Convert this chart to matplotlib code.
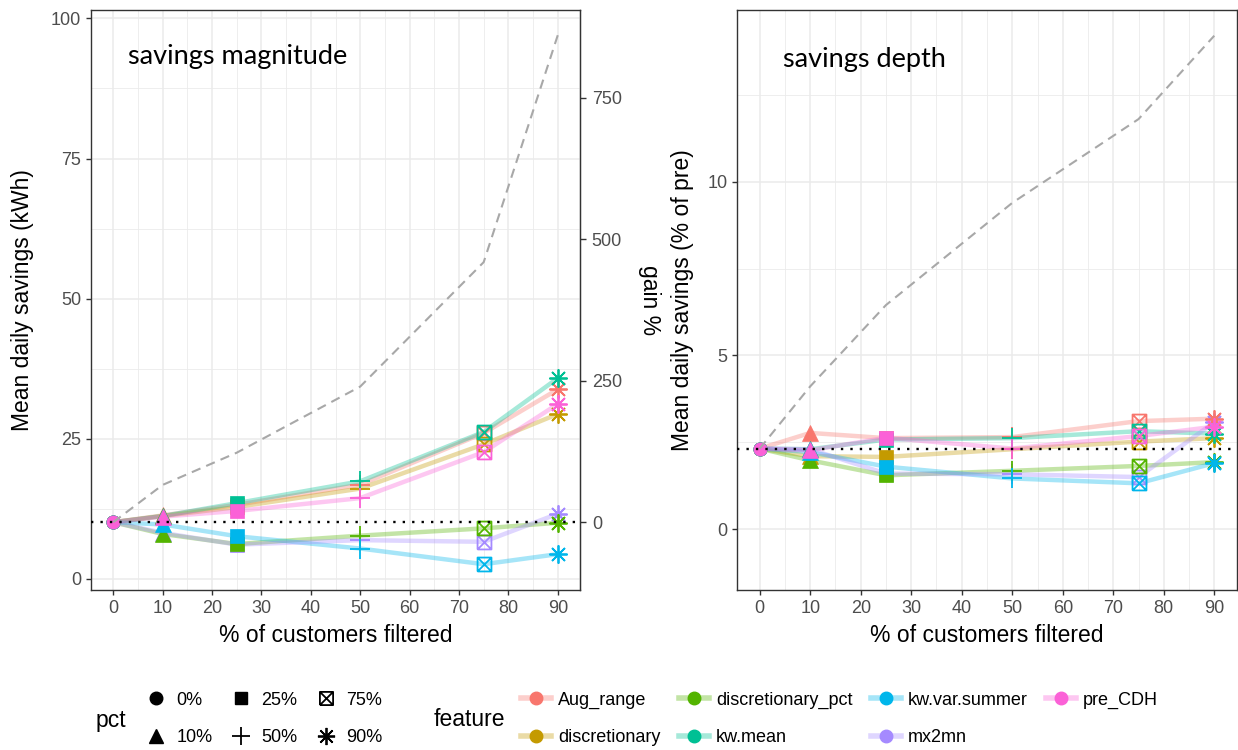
import numpy as np
import matplotlib
matplotlib.use('Agg')
import matplotlib.pyplot as plt
from matplotlib.lines import Line2D
from matplotlib.path import Path
from matplotlib.ticker import MultipleLocator

plt.rcParams['font.family'] = ['Liberation Sans', 'DejaVu Sans']

# % of customers filtered
pct_x = [0, 10, 25, 50, 75, 90]
pct_labels = ['0%', '10%', '25%', '50%', '75%', '90%']

features = ['Aug_range', 'discretionary', 'discretionary_pct', 'kw.mean',
            'kw.var.summer', 'mx2mn', 'pre_CDH']
feature_colors = ['#F8766D', '#C49A00', '#53B400', '#00C094',
                  '#00B6EB', '#A58AFF', '#FB61D7']

# savings magnitude (kWh), one row per feature
magnitude = [
    [10.1, 11.3, 13.2, 16.8, 26.0, 33.8],   # Aug_range
    [10.1, 11.2, 12.8, 16.1, 24.0, 29.4],   # discretionary
    [10.1, 8.0, 6.2, 7.7, 9.0, 10.0],       # discretionary_pct
    [10.1, 11.2, 13.5, 17.4, 26.2, 35.8],   # kw.mean
    [10.1, 9.7, 7.6, 5.4, 2.6, 4.4],        # kw.var.summer
    [10.1, 8.2, 6.1, 6.9, 6.6, 11.6],       # mx2mn
    [10.1, 11.1, 12.1, 14.4, 22.6, 31.2],   # pre_CDH
]
magnitude_upper = [10.1, 16.75, 22.5, 34.3, 56.5, 97.0]
magnitude_base = 10.1

# savings depth (% of pre)
depth = [
    [2.32, 2.77, 2.62, 2.65, 3.11, 3.18],   # Aug_range
    [2.32, 2.10, 2.08, 2.30, 2.52, 2.62],   # discretionary
    [2.32, 1.98, 1.55, 1.68, 1.82, 1.93],   # discretionary_pct
    [2.32, 2.30, 2.58, 2.62, 2.82, 2.75],   # kw.mean
    [2.32, 2.22, 1.80, 1.46, 1.32, 1.90],   # kw.var.summer
    [2.32, 2.30, 1.60, 1.58, 1.50, 3.08],   # mx2mn
    [2.32, 2.27, 2.63, 2.32, 2.68, 2.95],   # pre_CDH
]
depth_upper = [2.32, 4.11, 6.45, 9.39, 11.8, 14.2]
depth_base = 2.32

# order the points are stacked in (last on top)
point_order = [5, 0, 1, 2, 3, 4, 6]

# marker shapes for pct (ggplot shapes 16, 17, 15, 3, 7, 8)
boxx = Path([(-1, -1), (1, -1), (1, 1), (-1, 1), (-1, -1),
             (-1, -1), (1, 1), (-1, 1), (1, -1)],
            [Path.MOVETO, Path.LINETO, Path.LINETO, Path.LINETO, Path.LINETO,
             Path.MOVETO, Path.LINETO, Path.MOVETO, Path.LINETO])
shapes = ['o', '^', 's', '+', boxx, (8, 2, 0)]
shape_size = [9.5, 11, 9.5, 14, 10, 13]
shape_filled = [True, True, True, False, False, False]

grid_col = '#EBEBEB'
dark = '#333333'
tick_col = '#4D4D4D'


def style_axes(ax):
    ax.set_facecolor('white')
    ax.grid(which='major', color=grid_col, lw=1.1, zorder=0)
    ax.grid(which='minor', color=grid_col, lw=0.6, zorder=0)
    ax.set_axisbelow(True)
    for s in ax.spines.values():
        s.set_color(dark)
        s.set_linewidth(1.0)
    ax.tick_params(which='major', length=3.5, width=1.0, color=dark,
                   labelcolor=tick_col, labelsize=13)
    ax.tick_params(which='minor', length=0)
    ax.xaxis.set_major_locator(MultipleLocator(10))
    ax.xaxis.set_minor_locator(MultipleLocator(5))
    ax.set_xlim(-4.5, 94.5)


def draw_panel(ax, data, upper, base):
    for vals, c in zip(data, feature_colors):
        ax.plot(pct_x, vals, color=c, alpha=0.35, lw=3.2, zorder=2)
    for k in point_order:
        vals, c = data[k], feature_colors[k]
        for i in range(len(pct_x)):
            if shape_filled[i]:
                ax.plot(pct_x[i], vals[i], marker=shapes[i], ms=shape_size[i],
                        color=c, mec=c, mew=0.5, ls='none', zorder=3)
            else:
                ax.plot(pct_x[i], vals[i], marker=shapes[i], ms=shape_size[i],
                        color=c, mfc='none', mec=c, mew=1.3, ls='none', zorder=3)
    ax.plot(pct_x, upper, color='#A8A8A8', ls=(0, (4.5, 3)), lw=1.5, zorder=4)
    ax.axhline(base, color='black', ls=(0, (1, 3)), lw=1.7, zorder=5)


fig = plt.figure(figsize=(12.38, 7.5), dpi=100)
ax1 = fig.add_axes([91 / 1238, 1 - 590 / 750, 489 / 1238, 580 / 750])
ax2 = fig.add_axes([737 / 1238, 1 - 590 / 750, 500 / 1238, 580 / 750])

# left panel: savings magnitude
style_axes(ax1)
draw_panel(ax1, magnitude, magnitude_upper, magnitude_base)
ax1.set_ylim(-2.0, 101.5)
ax1.yaxis.set_major_locator(MultipleLocator(25))
ax1.yaxis.set_minor_locator(MultipleLocator(12.5))
ax1.set_ylabel('Mean daily savings (kWh)', fontsize=16.5, va='center')
ax1.yaxis.set_label_coords(-0.141, 0.5)
ax1.set_xlabel('% of customers filtered', fontsize=16.5, va='center')
ax1.xaxis.set_label_coords(0.5, -0.079)
ax1.text(0.0757, 0.919, 'savings magnitude', transform=ax1.transAxes,
         fontsize=19.5, family='Lato', va='center', ha='left')

sec = ax1.secondary_yaxis('right',
                          functions=(lambda y: (y / magnitude_base - 1) * 100,
                                     lambda g: magnitude_base * (1 + g / 100)))
sec.set_yticks([0, 250, 500, 750])
sec.tick_params(length=4.5, width=1.0, color=dark, labelcolor=tick_col,
                labelsize=13, pad=4)
sec.spines['right'].set_color(dark)
fig.text(650 / 1238, 1 - 300 / 750, 'gain %', fontsize=16.5, rotation=270,
         ha='center', va='center')

# right panel: savings depth
style_axes(ax2)
draw_panel(ax2, depth, depth_upper, depth_base)
ax2.set_ylim(-1.75, 14.94)
ax2.yaxis.set_major_locator(MultipleLocator(5))
ax2.yaxis.set_minor_locator(MultipleLocator(2.5))
ax2.set_ylabel('Mean daily savings (% of pre)', fontsize=16.5, va='center')
ax2.yaxis.set_label_coords(-0.108, 0.5)
ax2.set_xlabel('% of customers filtered', fontsize=16.5, va='center')
ax2.xaxis.set_label_coords(0.5, -0.079)
ax2.text(0.092, 0.914, 'savings depth', transform=ax2.transAxes,
         fontsize=19.5, family='Lato', va='center', ha='left')

# legends
pct_handles = []
for i, lab in enumerate(pct_labels):
    if shape_filled[i]:
        h = Line2D([], [], ls='none', marker=shapes[i], ms=shape_size[i] * 0.95,
                   color='black', label=lab)
    else:
        h = Line2D([], [], ls='none', marker=shapes[i], ms=shape_size[i] * 0.95,
                   mfc='none', mec='black', mew=1.3, label=lab)
    pct_handles.append(h)
fig.legend(handles=pct_handles, ncol=3, loc='center left',
           bbox_to_anchor=(131 / 1238, 1 - 719 / 750), frameon=False,
           fontsize=13, handlelength=1.0, handletextpad=0.6,
           columnspacing=1.1, labelspacing=1.15, borderpad=0.4)
fig.text(111 / 1238, 1 - 720 / 750, 'pct', fontsize=16.5, ha='center', va='center')

feat_handles = []
for f, c in zip(features, feature_colors):
    h = Line2D([], [], color=matplotlib.colors.to_rgba(c, 0.35), lw=4,
               marker='o', ms=9, mfc=c, mec=c, label=f)
    feat_handles.append(h)
fig.legend(handles=feat_handles, ncol=4, loc='center left',
           bbox_to_anchor=(505 / 1238, 1 - 719 / 750), frameon=False,
           fontsize=13, handlelength=1.66, handletextpad=0.4,
           columnspacing=1.0, labelspacing=1.15, borderpad=0.4)
fig.text(469 / 1238, 1 - 720 / 750, 'feature', fontsize=16.5, ha='center', va='center')

fig.savefig('out.png', dpi=100, facecolor='white')
